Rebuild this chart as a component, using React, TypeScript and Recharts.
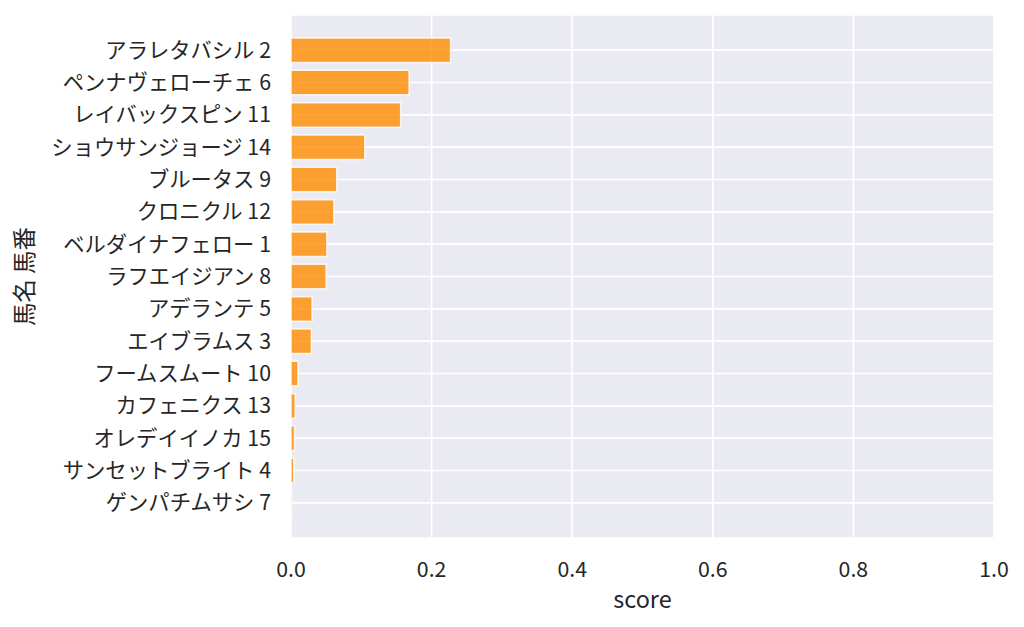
import { BarChart, Bar, XAxis, YAxis, CartesianGrid } from "recharts"

const horses = [
  "アラレタバシル 2",
  "ペンナヴェローチェ 6",
  "レイバックスピン 11",
  "ショウサンジョージ 14",
  "ブルータス 9",
  "クロニクル 12",
  "ベルダイナフェロー 1",
  "ラフエイジアン 8",
  "アデランテ 5",
  "エイブラムス 3",
  "フームスムート 10",
  "カフェニクス 13",
  "オレデイイノカ 15",
  "サンセットブライト 4",
  "ゲンパチムサシ 7",
]
const scores = [0.227, 0.168, 0.156, 0.105, 0.065, 0.061, 0.051, 0.05, 0.03, 0.029, 0.01, 0.006, 0.005, 0.004, 0.001]
const xTicks = [0, 0.2, 0.4, 0.6, 0.8, 1.0]

const data = horses.map((name, i) => ({ name, score: scores[i] }))

const font = "'Noto Sans CJK JP', 'Noto Sans', sans-serif"
const ink = "#262626"

const YLabel = () => {
  const cy = 15 + 523 / 2
  return (
    <text x={23} y={cy} transform={`rotate(-90 23 ${cy})`} textAnchor="middle" dominantBaseline="central"
      fill={ink} fontSize={23.4} fontFamily={font}>
      馬名 馬番
    </text>
  )
}

const XLabel = (props: any) => {
  const vb = props.viewBox
  return (
    <text x={vb.x + vb.width / 2} y={607.5} textAnchor="middle" fill={ink} fontSize={23.4} fontFamily={font}>
      score
    </text>
  )
}

const App = () => {
  return (
    <div style={{ position: "absolute", left: 0, top: 0, background: "#fff" }}>
      <BarChart width={1024} height={627} data={data} layout="vertical"
        margin={{ top: 15, right: 30, bottom: 0, left: 0 }}>
        <CartesianGrid fill="#eaeaf2" stroke="#ffffff" strokeWidth={1.6} />
        <XAxis type="number" domain={[0, 1]} ticks={xTicks} height={89}
          tickFormatter={(v: number) => v.toFixed(1)}
          axisLine={false} tickLine={false} tickSize={0} tickMargin={24}
          tick={{ fill: ink, fontSize: 21.3, fontFamily: font }}
          label={<XLabel />} />
        <YAxis type="category" dataKey="name" width={291} padding={{ top: 19, bottom: 19 }}
          axisLine={false} tickLine={false} tickSize={0} tickMargin={20} interval={0}
          tick={{ fill: ink, fontSize: 21.3, fontFamily: font }}
          label={<YLabel />} />
        <Bar dataKey="score" fill="#ff8c00" fillOpacity={0.8} stroke="#ffffff" strokeOpacity={0.8}
          strokeWidth={1.5} barSize={24.5} isAnimationActive={false} />
      </BarChart>
    </div>
  )
}

export default App
